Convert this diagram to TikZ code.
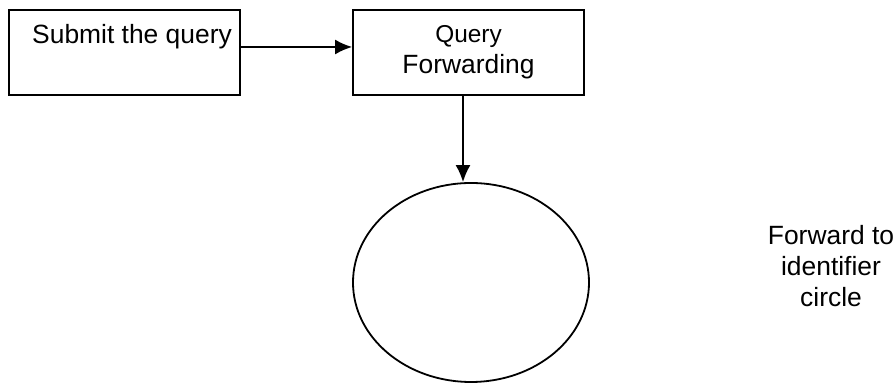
\documentclass[tikz,border=0pt]{standalone}
\usepackage{fontspec}
\setmainfont{Liberation Sans}
\usetikzlibrary{shapes.geometric, arrows.meta}

\begin{document}
\begin{tikzpicture}[x=0.5pt, y=-0.5pt,
		kasten/.style={draw, line width=0.9pt, rectangle, minimum width=115.5pt, minimum height=42.5pt, inner sep=0pt},
		pfeil/.style={-{Latex[length=8.5pt, width=7.5pt]}, line width=0.9pt},
		schrift/.style={font=\fontsize{13.2}{15.6}\selectfont, align=center, inner sep=0pt}]

		%Rahmen
		\useasboundingbox (0,0) rectangle (896,383);

		%Kasten links
		\node [kasten] (submit) at (124.5,52.5) {};
		\node [schrift, anchor=base] (submittext) at (132,44) {Submit the query};

		%Kasten rechts
		\node [kasten, schrift, line width=0.9pt, minimum width=115.5pt, minimum height=42.5pt] (forward) at (468.5,52.5)
			{{\fontsize{12.2}{15}\selectfont Query}\\Forwarding};

		%Kreis
		\node [draw, ellipse, line width=0.9pt, minimum width=118pt, minimum height=99.5pt, inner sep=0pt] (kreis) at (471,282.5) {};

		%Beschriftung rechts
		\node [schrift] (kreistext) at (831,266) {Forward to\\identifier\\circle};

		%Pfeile
		\draw [pfeil] ([yshift=2.75pt]submit.east) -- ([yshift=2.75pt]forward.west);
		\draw [pfeil] ([xshift=-2.75pt]forward.south) -- ([xshift=-2.75pt]forward.south |- kreis.north);

\end{tikzpicture}
\end{document}
